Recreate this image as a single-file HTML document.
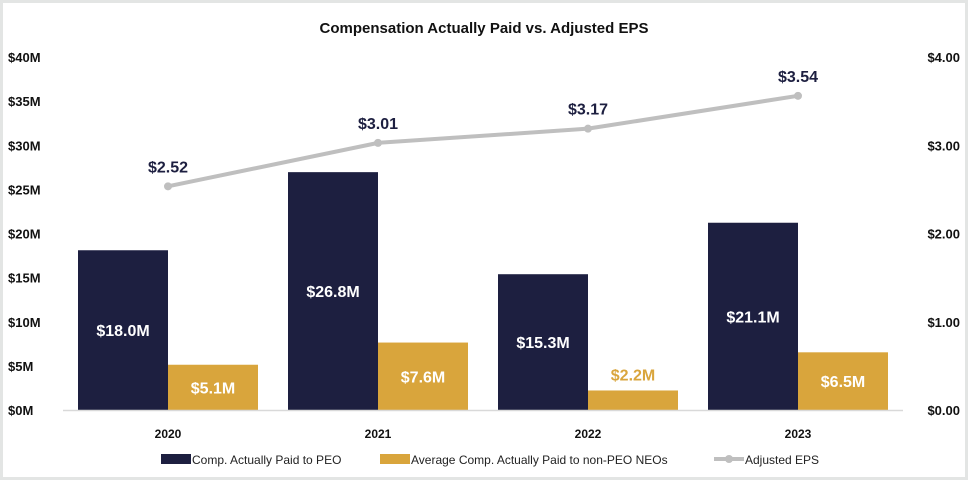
<!DOCTYPE html>
<html><head><meta charset="utf-8"><style>
body{margin:0;background:#fff}
svg{display:block;font-family:"Liberation Sans",sans-serif}
</style></head><body>
<svg id="c" width="968" height="480">
<rect x="1.5" y="1.5" width="965" height="477" fill="#fff" stroke="#e3e5e4" stroke-width="3"/>
<text x="484" y="33" text-anchor="middle" font-size="15" font-weight="bold" fill="#111">Compensation Actually Paid vs. Adjusted EPS</text>
<g id="g"></g>
</svg>
<script>
const categories=["2020","2021","2022","2023"];
const peo=[18.0,26.8,15.3,21.1];
const neo=[5.1,7.6,2.2,6.5];
const eps=[2.52,3.01,3.17,3.54];
const leftTicks=[0,5,10,15,20,25,30,35,40];
const rightTicks=[0,1,2,3,4];
const NS="http://www.w3.org/2000/svg";
const g=document.getElementById('g');
const x0=63,cw=210,yb=410,yt=55;
const yL=v=>yb-(v/40)*(yb-yt);
const yR=v=>yb-(v/4)*(yb-yt);
const cx=i=>x0+cw*i+105;
function el(t,a,txt){const e=document.createElementNS(NS,t);for(const k in a)e.setAttribute(k,a[k]);if(txt!=null)e.textContent=txt;g.appendChild(e);return e;}
leftTicks.forEach(v=>{const t=el('text',{x:8,y:410-(v/40)*353+5,'font-size':13,'font-weight':'bold',fill:'#111'},'$'+v+'M');

});
rightTicks.forEach(v=>{const t=el('text',{x:960,y:410-(v/4)*353+5,'text-anchor':'end','font-size':13,'font-weight':'bold',fill:'#111'},'$'+v.toFixed(2));

});
categories.forEach((c,i)=>{
 const b1=el('rect',{x:cx(i)-90,y:yL(peo[i]),width:90,height:yb-yL(peo[i]),fill:'#1d1f40'});
 
 
 const b2=el('rect',{x:cx(i),y:yL(neo[i]),width:90,height:yb-yL(neo[i]),fill:'#d9a53c'});
 
 
 const l1=el('text',{x:cx(i)-45,y:(yL(peo[i])+yb)/2+6,'text-anchor':'middle','font-size':16,'font-weight':'bold',fill:'#fff'},'$'+peo[i].toFixed(1)+'M');
 
 
 const small=(yb-yL(neo[i]))<30;
 const l2=el('text',{x:cx(i)+45,y:small?yL(neo[i])-10:(yL(neo[i])+yb)/2+6,'text-anchor':'middle','font-size':16,'font-weight':'bold',fill:small?'#d9a53c':'#fff'},'$'+neo[i].toFixed(1)+'M');
 
 
 const xl=el('text',{x:cx(i),y:438,'text-anchor':'middle','font-size':12,'font-weight':'bold',fill:'#111'},c);
 
 
});
const ax=el('line',{x1:x0,x2:x0+cw*4,y1:yb+0.5,y2:yb+0.5,stroke:'#d9d9d9','stroke-width':1.5});


const pl=el('polyline',{points:eps.map((v,i)=>cx(i)+','+yR(v)).join(' '),fill:'none',stroke:'#bfbfbf','stroke-width':4});


eps.forEach((v,i)=>{
 const p=el('circle',{cx:cx(i),cy:yR(v),r:4,fill:'#bfbfbf'});
 
 
 const t=el('text',{x:cx(i),y:yR(v)-14,'text-anchor':'middle','font-size':16,'font-weight':'bold',fill:'#1d1f40'},'$'+v.toFixed(2));
 
 
});
const leg=[[161,'#1d1f40','Comp. Actually Paid to PEO','rect'],[380,'#d9a53c','Average Comp. Actually Paid to non-PEO NEOs','rect'],[714,'#bfbfbf','Adjusted EPS','line']];
leg.forEach(l=>{
 if(l[3]=='rect'){const s=el('rect',{x:l[0],y:454,width:30,height:10,fill:l[1]});}
 else{const s=el('line',{x1:l[0],x2:l[0]+30,y1:459,y2:459,stroke:l[1],'stroke-width':4});
 const c=el('circle',{cx:l[0]+15,cy:459,r:4,fill:l[1]});}
 const t=el('text',{x:l[0]+31,y:464,'font-size':12,fill:'#222'},l[2]);
 
 
});
</script>
</body></html>
